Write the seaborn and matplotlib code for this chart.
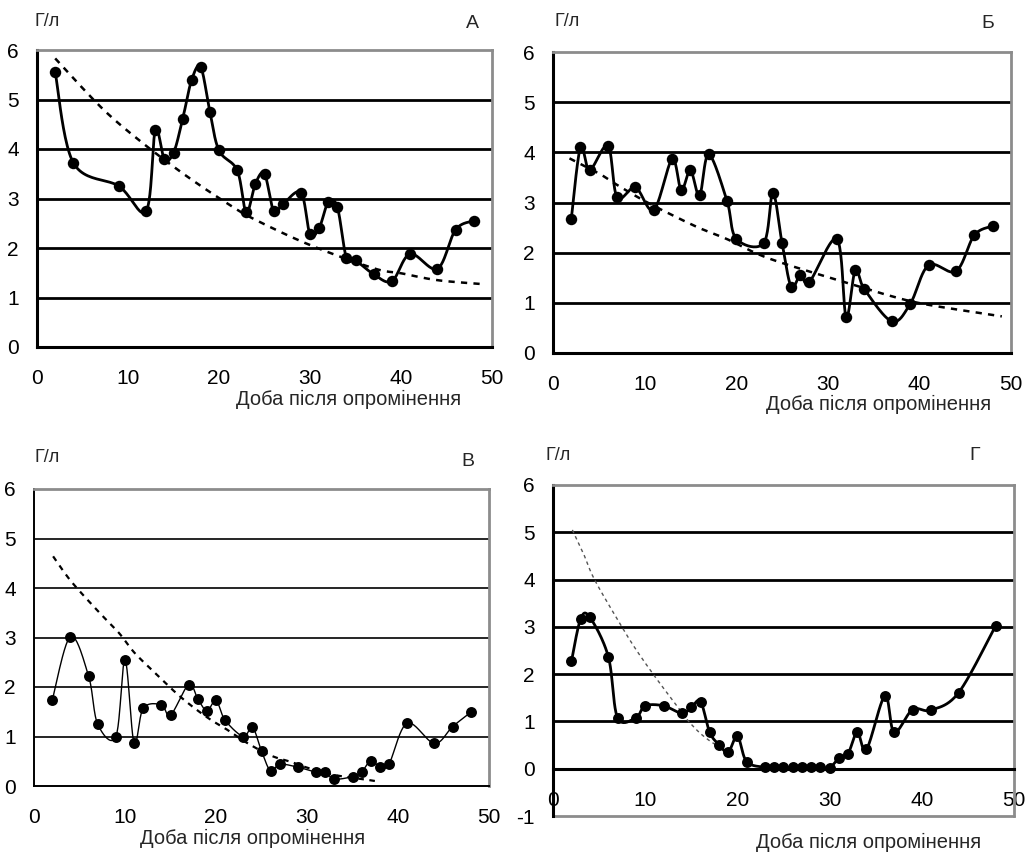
import numpy as np
import matplotlib
matplotlib.use("Agg")
import matplotlib.pyplot as plt
import seaborn as sns

# ---- Panel А ----
a_day = [2, 4, 9, 12, 13, 14, 15, 16, 17, 18, 19, 20, 22, 23, 24, 25, 26, 27, 29, 30,
         31, 32, 33, 34, 35, 37, 39, 41, 44, 46, 48]
a_val = [5.55, 3.72, 3.25, 2.75, 4.38, 3.80, 3.92, 4.60, 5.40, 5.65, 4.75, 3.97, 3.57, 2.72,
         3.30, 3.50, 2.75, 2.88, 3.12, 2.28, 2.40, 2.92, 2.83, 1.80, 1.75, 1.47, 1.33, 1.88,
         1.58, 2.37, 2.55]
a_trend_day = [2, 7, 11, 16, 21, 24, 30, 37, 40, 44, 49]
a_trend_val = [5.83, 4.85, 4.21, 3.51, 2.89, 2.57, 2.06, 1.59, 1.49, 1.35, 1.27]

# ---- Panel Б ----
b_day = [2, 3, 4, 6, 7, 9, 11, 13, 14, 15, 16, 17, 19, 20, 23, 24, 25, 26, 27, 28, 31, 32,
         33, 34, 37, 39, 41, 44, 46, 48]
b_val = [2.68, 4.10, 3.65, 4.13, 3.10, 3.30, 2.85, 3.86, 3.25, 3.64, 3.14, 3.96, 3.03, 2.28,
         2.19, 3.19, 2.20, 1.32, 1.55, 1.42, 2.27, 0.72, 1.65, 1.27, 0.63, 0.98, 1.75, 1.63,
         2.35, 2.53]
b_trend_day = [1.8, 5, 7, 10, 13, 16, 19, 23.5, 31.5, 37, 41, 49]
b_trend_val = [3.88, 3.58, 3.35, 3.03, 2.75, 2.49, 2.27, 1.89, 1.43, 1.13, 0.96, 0.73]

# ---- Panel В ----
c_day = [2, 4, 6, 7, 9, 10, 11, 12, 14, 15, 17, 18, 19, 20, 21, 23, 24, 25, 26, 27, 29, 31,
         32, 33, 35, 36, 37, 38, 39, 41, 44, 46, 48]
c_val = [1.73, 3.02, 2.22, 1.25, 1.00, 2.55, 0.86, 1.57, 1.64, 1.43, 2.05, 1.76, 1.52, 1.73,
         1.33, 1.00, 1.19, 0.71, 0.30, 0.44, 0.38, 0.28, 0.28, 0.14, 0.19, 0.28, 0.51, 0.39,
         0.44, 1.27, 0.86, 1.20, 1.49]
c_trend_day = [2.1, 4.1, 7.2, 9.3, 11, 13.1, 16.1, 19, 21.2, 23.5, 26.1, 28.2, 30.2, 33.1,
               36.1, 37.5]
c_trend_val = [4.64, 4.13, 3.50, 3.10, 2.70, 2.32, 1.80, 1.39, 1.14, 0.86, 0.61, 0.49, 0.36,
               0.22, 0.14, 0.10]

# ---- Panel Г ----
d_day = [2, 3, 4, 6, 7, 9, 10, 12, 14, 15, 16, 17, 18, 19, 20, 21, 23, 24, 25, 26, 27, 28,
         29, 30, 31, 32, 33, 34, 36, 37, 39, 41, 44, 48]
d_val = [2.27, 3.17, 3.20, 2.37, 1.08, 1.08, 1.33, 1.33, 1.17, 1.30, 1.42, 0.77, 0.51, 0.35,
         0.69, 0.15, 0.03, 0.03, 0.03, 0.03, 0.03, 0.03, 0.03, 0.02, 0.22, 0.32, 0.77, 0.41,
         1.54, 0.77, 1.25, 1.24, 1.61, 3.02]
d_trend_day = [2.1, 3.3, 4.5, 7.1, 8.9, 11.05, 13.2, 14.9, 16.85, 19.9]
d_trend_val = [5.05, 4.55, 4.00, 3.12, 2.55, 1.95, 1.39, 0.96, 0.61, 0.25]

panel_letters = ["А", "Б", "В", "Г"]
x_label = "Доба після опромінення"
y_unit = "Г/л"
x_ticks = [0, 10, 20, 30, 40, 50]

W, H = 1036, 858


def smooth(x, y, n=24):
    """Cubic Bezier smoothing through every point (spreadsheet-style smoothed line)."""
    p = np.column_stack([np.asarray(x, float), np.asarray(y, float)])
    t = np.linspace(0, 1, n)[:, None]
    out = []
    for i in range(len(p) - 1):
        p0 = p[i - 1] if i > 0 else p[i]
        p1, p2 = p[i], p[i + 1]
        p3 = p[i + 2] if i + 2 < len(p) else p[i + 1]
        c1 = p1 + (p2 - p0) / 6.0
        c2 = p2 - (p3 - p1) / 6.0
        seg = ((1 - t) ** 3) * p1 + 3 * ((1 - t) ** 2) * t * c1 + 3 * (1 - t) * t ** 2 * c2 + t ** 3 * p2
        out.append(seg if i == 0 else seg[1:])
    s = np.vstack(out)
    return s[:, 0], s[:, 1]


def px_rect(left, top, right, bottom):
    return [left / W, 1 - bottom / H, (right - left) / W, (bottom - top) / H]


sns.set_theme(style="white")
plt.rcParams["font.family"] = ["Liberation Sans", "DejaVu Sans"]
plt.rcParams["axes.unicode_minus"] = False

fig = plt.figure(figsize=(W / 100, H / 100), dpi=100)

panels = [
    dict(rect=px_rect(37, 50, 492, 347), day=a_day, val=a_val, tday=a_trend_day, tval=a_trend_val,
         ymin=0, lw=2.0, glw=2.0, tlw=1.8, tcol="black", ms=68,
         unit_xy=(47, 21), letter_xy=(472, 23), label_xy=(349, 399)),
    dict(rect=px_rect(553, 52, 1011, 353), day=b_day, val=b_val, tday=b_trend_day, tval=b_trend_val,
         ymin=0, lw=2.0, glw=2.0, tlw=1.8, tcol="black", ms=68,
         unit_xy=(567, 22), letter_xy=(988, 23), label_xy=(879, 404)),
    dict(rect=px_rect(34, 489, 489, 786), day=c_day, val=c_val, tday=c_trend_day, tval=c_trend_val,
         ymin=0, lw=1.0, glw=1.2, tlw=1.6, tcol="black", ms=62,
         unit_xy=(47, 458), letter_xy=(468, 462), label_xy=(253, 838)),
    dict(rect=px_rect(553, 485, 1014, 816), day=d_day, val=d_val, tday=d_trend_day, tval=d_trend_val,
         ymin=-1, lw=2.0, glw=2.0, tlw=1.0, tcol="#555555", ms=62,
         unit_xy=(558, 456), letter_xy=(975, 455), label_xy=(869, 842)),
]

for letter, p in zip(panel_letters, panels):
    ax = fig.add_axes(p["rect"])
    ax.set_xlim(0, 50)
    ax.set_ylim(p["ymin"], 6)

    # horizontal gridlines
    for yv in range(1, 6):
        ax.axhline(yv, color="black", lw=p["glw"], zorder=1)

    # trend curve
    tx, ty = smooth(p["tday"], p["tval"])
    sns.lineplot(x=tx, y=ty, sort=False, estimator=None, ax=ax, color=p["tcol"],
                 lw=p["tlw"], linestyle=(0, (2.5, 2.5)), zorder=3)

    # measured series
    sx, sy = smooth(p["day"], p["val"])
    sns.lineplot(x=sx, y=sy, sort=False, estimator=None, ax=ax, color="black",
                 lw=p["lw"], zorder=4)
    sns.scatterplot(x=p["day"], y=p["val"], ax=ax, color="black", s=p["ms"],
                    edgecolor="black", linewidth=0, zorder=5)

    # frame: black axes, grey plot-area border
    for side in ("top", "right"):
        ax.spines[side].set_color("#8c8c8c")
        ax.spines[side].set_linewidth(2.0)
    for side in ("left", "bottom"):
        ax.spines[side].set_color("black")
        ax.spines[side].set_linewidth(p["glw"] + 0.2)
    if p["ymin"] < 0:
        ax.spines["bottom"].set_position(("data", 0))
        ax.axhline(p["ymin"], color="#8c8c8c", lw=2.0, clip_on=False, zorder=2)

    ax.set_xticks(x_ticks)
    ax.set_yticks(range(p["ymin"], 7))
    ax.tick_params(axis="both", direction="out", length=6, width=p["glw"], color="black",
                   labelsize=15, labelcolor="black")
    ax.tick_params(axis="x", pad=10)
    ax.tick_params(axis="y", pad=7)
    ax.set_xlabel("")
    ax.set_ylabel("")
    ax.set_facecolor("white")

    fig.text(p["unit_xy"][0] / W, 1 - p["unit_xy"][1] / H, y_unit, fontsize=13,
             ha="center", va="center")
    fig.text(p["letter_xy"][0] / W, 1 - p["letter_xy"][1] / H, letter, fontsize=14,
             ha="center", va="center")
    fig.text(p["label_xy"][0] / W, 1 - p["label_xy"][1] / H, x_label, fontsize=14.5,
             ha="center", va="center")

fig.savefig("out.png", dpi=100, facecolor="white")
